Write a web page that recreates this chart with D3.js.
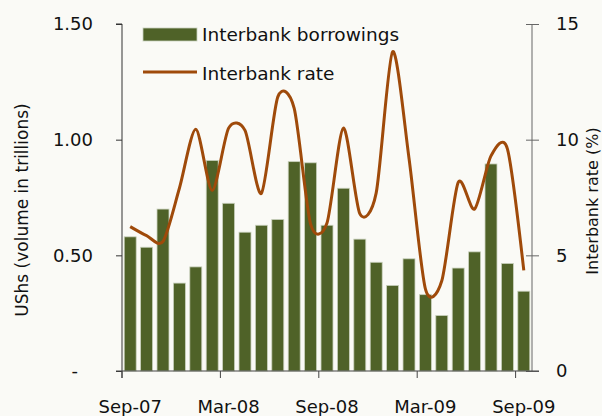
<!DOCTYPE html>
<html>
<head>
<meta charset="utf-8">
<script src="https://cdn.jsdelivr.net/npm/d3@7"></script>
<style>
  html, body { margin: 0; padding: 0; background: #fafaf6; }
  svg { display: block; font-family: "DejaVu Sans", Verdana, sans-serif; }
</style>
</head>
<body>
<svg id="chart" width="602" height="416"></svg>
<script>
// Monthly interbank market: volume of borrowings (UShs trillions) and rate (%)
const months = ["Sep-07","Oct-07","Nov-07","Dec-07","Jan-08","Feb-08","Mar-08","Apr-08","May-08",
  "Jun-08","Jul-08","Aug-08","Sep-08","Oct-08","Nov-08","Dec-08","Jan-09","Feb-09","Mar-09",
  "Apr-09","May-09","Jun-09","Jul-09","Aug-09","Sep-09"];
const borrowings = [0.58, 0.535, 0.70, 0.38, 0.45, 0.91, 0.725, 0.60, 0.63, 0.655, 0.905, 0.90,
  0.63, 0.79, 0.57, 0.47, 0.37, 0.485, 0.33, 0.24, 0.445, 0.515, 0.895, 0.465, 0.345];
const rate = [6.24, 5.85, 5.6, 7.9, 10.45, 7.8, 10.5, 10.4, 7.68, 11.85, 11.35, 6.35,
  6.4, 10.5, 6.8, 7.7, 13.8, 9.2, 3.55, 3.9, 8.15, 7.0, 9.3, 9.6, 4.35];
const leftTicks = [0, 0.5, 1.0, 1.5];
const leftTickLabels = ["-", "0.50", "1.00", "1.50"];
const rightTicks = [0, 5, 10, 15];
const xLabelMonths = ["Sep-07", "Mar-08", "Sep-08", "Mar-09", "Sep-09"];
const seriesNames = ["Interbank borrowings", "Interbank rate"];

const barColor = "#4f6228";
const lineColor = "#9f4a0a";

const plot = { left: 122, right: 532, top: 24, bottom: 371 };
const svg = d3.select("#chart");

const x = d3.scaleBand().domain(months)
  .range([plot.left, plot.right]).paddingInner(0.27).paddingOuter(0.135);
const yL = d3.scaleLinear().domain([0, 1.5]).range([plot.bottom, plot.top]);
const yR = d3.scaleLinear().domain([0, 15]).range([plot.bottom, plot.top]);
const step = x.step();

// bars
svg.append("g").selectAll("rect").data(borrowings).join("rect")
  .attr("x", (d, i) => x(months[i]))
  .attr("y", d => yL(d))
  .attr("width", x.bandwidth())
  .attr("height", d => yL(0) - yL(d))
  .attr("fill", barColor)
  .attr("stroke", "#c9d1bd").attr("stroke-width", 0.8);

// smoothed rate line
const line = d3.line()
  .x((d, i) => x(months[i]) + x.bandwidth() / 2)
  .y(d => yR(d))
  .curve(d3.curveCardinal.tension(0.2));
svg.append("path").datum(rate)
  .attr("d", line)
  .attr("fill", "none")
  .attr("stroke", lineColor)
  .attr("stroke-width", 3)
  .attr("stroke-linejoin", "round");

// left axis
const leftAxis = d3.axisLeft(yL).tickValues(leftTicks)
  .tickFormat((d, i) => leftTickLabels[i]).tickSize(6).tickPadding(23);
const gL = svg.append("g").attr("transform", `translate(${plot.left},0)`).call(leftAxis);
gL.select(".domain").attr("stroke", "#333").attr("d", `M-6,${plot.top}H0V${plot.bottom + 7}`);
gL.selectAll(".tick line").attr("stroke", "#333");
gL.selectAll(".tick text").attr("font-size", 18).attr("fill", "#111")
  .attr("font-family", "DejaVu Sans, sans-serif")
  .attr("dx", (d, i) => i === 0 ? -15 : 0);

// right axis
const rightAxis = d3.axisRight(yR).tickValues(rightTicks).tickSize(7).tickPadding(17);
const gR = svg.append("g").attr("transform", `translate(${plot.right},0)`).call(rightAxis);
gR.select(".domain").attr("stroke", "#666").attr("d", `M0,${plot.top}V${plot.bottom}`);
gR.selectAll(".tick line").attr("stroke", "#666").attr("x1", -6);
gR.selectAll(".tick text").attr("font-size", 18).attr("fill", "#111")
  .attr("font-family", "DejaVu Sans, sans-serif");

// category axis: ticks at the left edge of every sixth month, labels centred on the month
const gX = svg.append("g").attr("transform", `translate(0,${plot.bottom})`);
gX.append("line").attr("x1", plot.left - 6).attr("x2", plot.right + 7)
  .attr("y1", 0).attr("y2", 0).attr("stroke", "#444");
gX.selectAll("line.tk").data(xLabelMonths).join("line").attr("class", "tk")
  .attr("x1", d => x(d) - (step - x.bandwidth()) / 2)
  .attr("x2", d => x(d) - (step - x.bandwidth()) / 2)
  .attr("y1", 0).attr("y2", 7).attr("stroke", "#444");
gX.selectAll("text").data(xLabelMonths).join("text")
  .attr("x", d => x(d) + x.bandwidth() / 2)
  .attr("y", 42)
  .attr("text-anchor", "middle")
  .attr("font-size", 18).attr("fill", "#111")
  .text(d => d);

// axis titles
svg.append("text")
  .attr("transform", "translate(28,210) rotate(-90)")
  .attr("text-anchor", "middle").attr("font-size", 17).attr("fill", "#111")
  .text("UShs (volume in trillions)");
svg.append("text")
  .attr("transform", "translate(598,201) rotate(-90)")
  .attr("text-anchor", "middle").attr("font-size", 16).attr("fill", "#111")
  .text("Interbank rate (%)");

// legend
const lg = svg.append("g");
lg.append("rect").attr("x", 143).attr("y", 28).attr("width", 54).attr("height", 13)
  .attr("fill", barColor).attr("stroke", "#c9d1bd").attr("stroke-width", 0.8);
lg.append("line").attr("x1", 143).attr("x2", 197).attr("y1", 72).attr("y2", 72)
  .attr("stroke", lineColor).attr("stroke-width", 3);
lg.selectAll("text").data(seriesNames).join("text")
  .attr("x", 202).attr("y", (d, i) => 41 + i * 38.5)
  .attr("font-size", 18.5).attr("fill", "#111")
  .text(d => d);
</script>
</body>
</html>
